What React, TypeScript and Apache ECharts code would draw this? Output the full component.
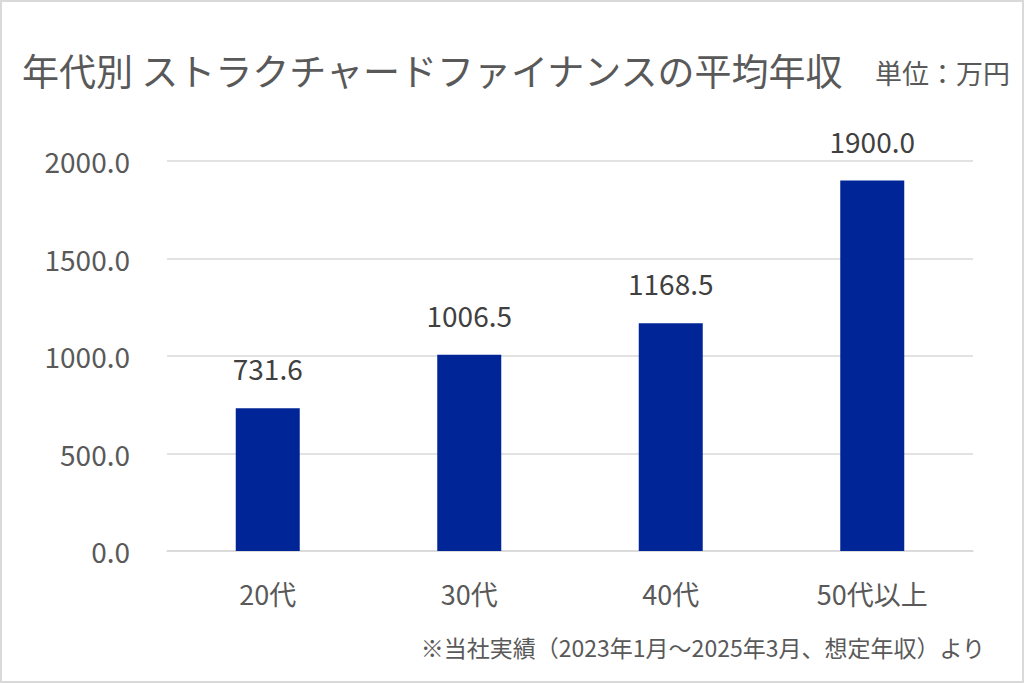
import React, { useEffect, useRef } from "react";
import * as echarts from "echarts";

const categories = ["20代", "30代", "40代", "50代以上"];
const salaries = [731.6, 1006.5, 1168.5, 1900.0];
const titleText = "年代別 ストラクチャードファイナンスの平均年収";
const unitText = "単位：万円";
const footnoteText = "※当社実績（2023年1月～2025年3月、想定年収）より";

const FONT = "'Noto Sans CJK JP', 'Noto Sans', sans-serif";

export default function App() {
  const ref = useRef<HTMLDivElement>(null);
  useEffect(() => {
    if (!ref.current) return;
    const chart = echarts.init(ref.current, undefined, { renderer: "svg" });
    chart.setOption({
      animation: false,
      backgroundColor: "#ffffff",
      textStyle: { fontFamily: FONT },
      grid: { left: 167, right: 51, top: 161, bottom: 132 },
      xAxis: {
        type: "category",
        data: categories,
        axisLine: { show: true, lineStyle: { color: "#d9d9d9", width: 1.5 } },
        axisTick: { show: false },
        axisLabel: { color: "#595959", fontSize: 27, margin: 29, fontFamily: FONT },
      },
      yAxis: {
        type: "value",
        min: 0,
        max: 2000,
        interval: 500,
        axisLine: { show: false },
        axisTick: { show: false },
        splitLine: { lineStyle: { color: "#d9d9d9", width: 1.5 } },
        axisLabel: {
          color: "#595959",
          fontSize: 28,
          margin: 37,
          fontFamily: FONT,
          formatter: (v: number) => v.toFixed(1),
        },
      },
      series: [
        {
          type: "bar",
          data: salaries,
          barWidth: 64,
          itemStyle: { color: "#002596" },
          label: {
            show: true,
            position: "top",
            distance: 26,
            color: "#404040",
            fontSize: 28,
            fontFamily: FONT,
            formatter: (p: any) => Number(p.value).toFixed(1),
          },
        },
      ],
      graphic: [
        {
          type: "rect",
          shape: { x: 1, y: 1, width: 1022, height: 681 },
          style: { fill: "none", stroke: "#d9d9d9", lineWidth: 2 },
          z: 100,
        },
        {
          type: "text",
          x: 22,
          y: 70,
          style: {
            text: titleText,
            fill: "#595959",
            fontSize: 37,
            fontFamily: FONT,
            textVerticalAlign: "middle",
            verticalAlign: "middle",
          },
        },
        {
          type: "text",
          x: 1010,
          y: 72,
          style: {
            text: unitText,
            fill: "#595959",
            fontSize: 27,
            fontFamily: FONT,
            align: "right",
            textAlign: "right",
            verticalAlign: "middle",
            textVerticalAlign: "middle",
          },
        },
        {
          type: "text",
          x: 985,
          y: 647,
          style: {
            text: footnoteText,
            fill: "#595959",
            fontSize: 23,
            fontFamily: FONT,
            align: "right",
            textAlign: "right",
            verticalAlign: "middle",
            textVerticalAlign: "middle",
          },
        },
      ],
    });
    return () => chart.dispose();
  }, []);
  return (
    <div
      ref={ref}
      style={{ position: "fixed", left: 0, top: 0, width: 1024, height: 683 }}
    />
  );
}
